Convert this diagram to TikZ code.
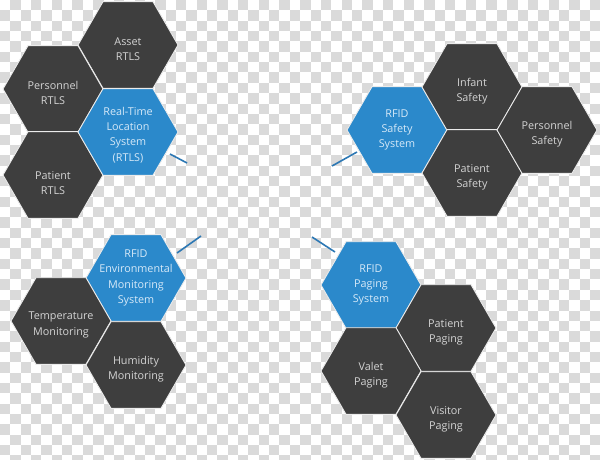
\documentclass[tikz,border=0pt]{standalone}
\usepackage{fontspec}
\setmainfont{Open Sans}
\usetikzlibrary{shapes.geometric}
\definecolor{hexdark}{RGB}{62,62,62}
\definecolor{hexblue}{RGB}{43,137,203}
\definecolor{txtdark}{RGB}{212,212,212}
\definecolor{txtblue}{RGB}{214,233,248}
\definecolor{checkg}{RGB}{218,218,218}
\definecolor{gapc}{RGB}{235,235,235}
\definecolor{linkc}{RGB}{45,120,180}
\tikzset{
  hexbase/.style={regular polygon, regular polygon sides=6, minimum size=100pt, inner sep=0pt, draw=gapc, line width=0.9pt},
  hexd/.style={hexbase, fill=hexdark},
  hexb/.style={hexbase, fill=hexblue},
  lbl/.style={align=center, font=\fontsize{10.8pt}{15.3pt}\selectfont, inner sep=0pt},
  lbld/.style={lbl, text=txtdark, yshift=-4pt},
  lblb/.style={lbl, text=txtblue},
  link/.style={draw=linkc, line width=1.6pt}
}
\begin{document}
\begin{tikzpicture}[x=1pt,y=-1pt]
\useasboundingbox (0,0) rectangle (600,460);
% transparency checkerboard
\fill[white] (0,0) rectangle (600,460);
\foreach \r in {0,...,44}{
  \foreach \c in {0,...,57}{
    \pgfmathtruncatemacro{\odd}{mod(\r+\c,2)}
    \ifnum\odd=1
      \fill[checkg] ({\c*10.35},{\r*10.35}) rectangle ({(\c+1)*10.35},{(\r+1)*10.35});
    \fi
  }
}
% RTLS group
\node[hexd] (asset) at (128,45) {};
\node[hexd] (persr) at (53,89) {};
\node[hexd] (patr) at (53,175) {};
\node[hexb] (rtls) at (128,132) {};
\node[lbld] (tasset) at (asset) {Asset\\RTLS};
\node[lbld] (tpersr) at (persr) {Personnel\\RTLS};
\node[lbld, yshift=-4pt] (tpatr) at (patr) {Patient\\RTLS};
\node[lblb, yshift=-3pt] (trtls) at (rtls) {Real-Time\\Location\\System\\(RTLS)};
% Safety group
\node[hexb] (safety) at (397,130) {};
\node[hexd] (infant) at (472,87) {};
\node[hexd] (pats) at (472,173) {};
\node[hexd] (perss) at (547,130) {};
\node[lblb] (tsafety) at (safety) {RFID\\Safety\\System};
\node[lbld] (tinfant) at (infant) {Infant\\Safety};
\node[lbld] (tpats) at (pats) {Patient\\Safety};
\node[lbld] (tperss) at (perss) {Personnel\\Safety};
% Environmental group
\node[hexb] (env) at (136,278) {};
\node[hexd] (temp) at (61,321) {};
\node[hexd] (hum) at (136,365) {};
\node[lblb] (tenv) at (env) {RFID\\Environmental\\Monitoring\\System};
\node[lbld] (ttemp) at (temp) {Temperature\\Monitoring};
\node[lbld] (thum) at (hum) {Humidity\\Monitoring};
% Paging group
\node[hexb] (paging) at (371,285) {};
\node[hexd] (patp) at (446,328) {};
\node[hexd] (valet) at (371,371) {};
\node[hexd] (visit) at (446,415) {};
\node[lblb] (tpaging) at (paging) {RFID\\Paging\\System};
\node[lbld] (tpatp) at (patp) {Patient\\Paging};
\node[lbld] (tvalet) at (valet) {Valet\\Paging};
\node[lbld] (tvisit) at (visit) {Visitor\\Paging};
% connector stubs
\coordinate (a1) at (170,154); \coordinate (a2) at (187,163);
\coordinate (b1) at (357,152); \coordinate (b2) at (332,166);
\coordinate (c1) at (177,253); \coordinate (c2) at (201,236);
\coordinate (d1) at (335,252); \coordinate (d2) at (312,237);
\draw[link] (a1) -- (a2);
\draw[link] (b1) -- (b2);
\draw[link] (c1) -- (c2);
\draw[link] (d1) -- (d2);
\end{tikzpicture}
\end{document}
